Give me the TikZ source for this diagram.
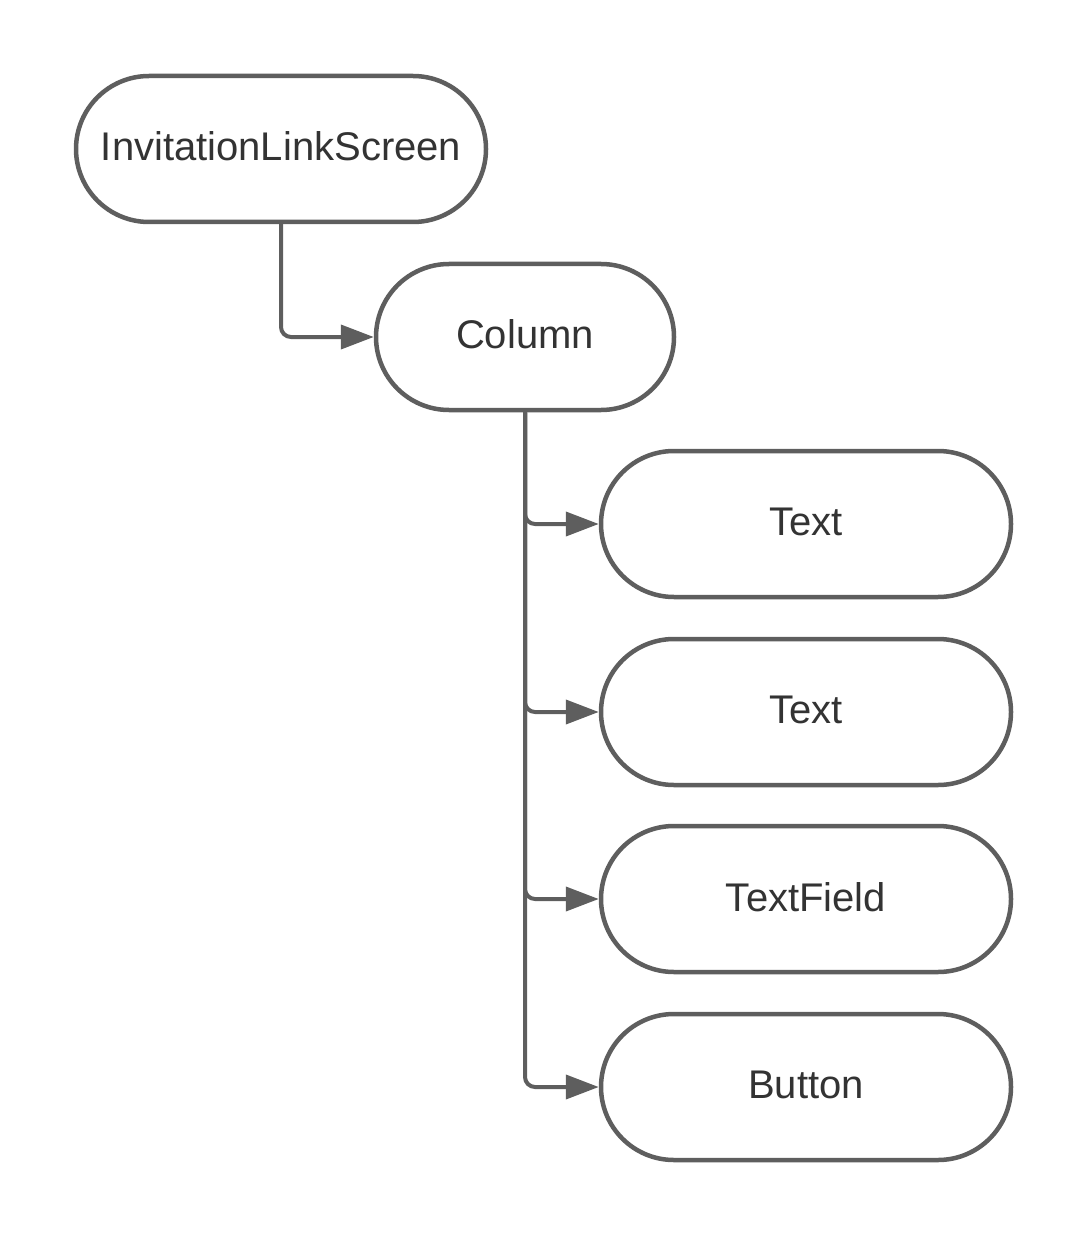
\documentclass[tikz,border=0pt]{standalone}
\usepackage{fontspec}
\setmainfont{Liberation Sans}
\usetikzlibrary{shapes.misc,arrows.meta}
\definecolor{edgegray}{HTML}{5E5E5E}
\definecolor{txtgray}{HTML}{333333}
\newcommand{\lbl}[1]{\raisebox{5pt}{#1}}
\tikzset{
  term/.style={rounded rectangle, draw=edgegray, line width=4.5pt, fill=white,
    minimum height=146pt, text=txtgray, font=\fontsize{40}{48}\selectfont, inner sep=0pt},
  conn/.style={draw=edgegray, line width=4pt, rounded corners=10pt,
    -{Triangle[length=33pt,width=24pt]}}
}
\begin{document}
\begin{tikzpicture}[x=1pt,y=-1pt]
\useasboundingbox (0,0) rectangle (1088,1238);
\node[term, minimum width=410pt] (inv) at (281,149) {\lbl{InvitationLinkScreen}};
\node[term, minimum width=298pt] (col) at (525,337) {\lbl{Column}};
\node[term, minimum width=410pt] (t1) at (806,524) {\lbl{Text}};
\node[term, minimum width=410pt] (t2) at (806,712) {\lbl{Text}};
\node[term, minimum width=410pt] (tf) at (806,899) {\lbl{TextField}};
\node[term, minimum width=410pt] (btn) at (806,1087) {\lbl{Button}};
\draw[conn] (inv.south) |- (col.west);
\draw[conn] (col.south) |- (t1.west);
\draw[conn] (col.south) |- (t2.west);
\draw[conn] (col.south) |- (tf.west);
\draw[conn] (col.south) |- (btn.west);
\end{tikzpicture}
\end{document}
